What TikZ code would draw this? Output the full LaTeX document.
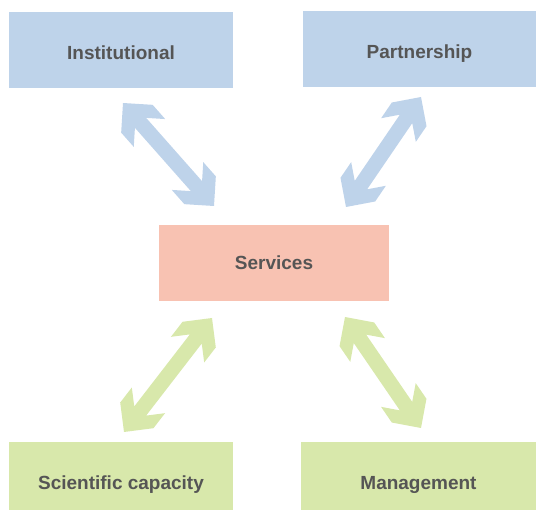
\documentclass[tikz,border=0pt]{standalone}
\usepackage{fontspec}
\setmainfont{Liberation Sans}
\usetikzlibrary{calc}

\definecolor{boxblue}{RGB}{190,211,234}
\definecolor{boxpink}{RGB}{248,194,178}
\definecolor{boxgreen}{RGB}{216,232,171}
\definecolor{textgray}{RGB}{85,85,85}

% points of a double arrow, measured along and across it
\newcommand{\atstart}[2]{($($(\tikztostart)!#1!(\tikztotarget)$)!#2!90:(\tikztotarget)$)}
\newcommand{\atend}[2]{($($(\tikztotarget)!#1!(\tikztostart)$)!#2!90:(\tikztostart)$)}

\tikzset{
  box/.style={rectangle, inner sep=0pt, text=textgray,
    text height=13.6pt, text depth=0pt,
    font=\bfseries\fontsize{19}{23}\selectfont},
  dblarrow/.style={to path={
    \atstart{0pt}{0pt} -- \atstart{21pt}{21pt} -- \atstart{40pt}{21pt}
    -- \atstart{26.5pt}{7.5pt} -- \atend{26.5pt}{-7.5pt} -- \atend{40pt}{-21pt}
    -- \atend{21pt}{-21pt} -- \atend{0pt}{0pt} -- \atend{21pt}{21pt}
    -- \atend{40pt}{21pt} -- \atend{26.5pt}{7.5pt} -- \atstart{26.5pt}{-7.5pt}
    -- \atstart{40pt}{-21pt} -- \atstart{21pt}{-21pt} -- cycle}}
}

\begin{document}
\begin{tikzpicture}[x=1pt,y=-1pt]
    \useasboundingbox (0,0) rectangle (536,510);

    % top row, text sits a little low
    \node[box, fill=boxblue, minimum width=224pt, minimum height=76pt, text height=19.6pt] (inst) at (121,50) {Institutional};
    \node[box, fill=boxblue, minimum width=233pt, minimum height=76pt, text height=19.6pt] (part) at (419.5,49) {Partnership};

    % middle
    \node[box, fill=boxpink, minimum width=230pt, minimum height=76pt] (serv) at (274,263) {Services};

    % bottom row, cut by the page edge
    \node[box, fill=boxgreen, minimum width=224pt, minimum height=76pt, text height=19pt] (sci) at (121,480) {Scientific capacity};
    \node[box, fill=boxgreen, minimum width=235pt, minimum height=76pt, text height=19pt] (man) at (418.5,480) {Management};

    % arrow ends
    \coordinate (inst-end) at (123,103);
    \coordinate (serv-nw) at (214,206);
    \coordinate (part-end) at (421,97);
    \coordinate (serv-ne) at (346,207);
    \coordinate (serv-sw) at (212,318);
    \coordinate (sci-end) at (124,432);
    \coordinate (serv-se) at (345,317);
    \coordinate (man-end) at (421,428);

    % double arrows
    \fill[boxblue] (inst-end) to[dblarrow] (serv-nw);
    \fill[boxblue] (part-end) to[dblarrow] (serv-ne);
    \fill[boxgreen] (serv-sw) to[dblarrow] (sci-end);
    \fill[boxgreen] (serv-se) to[dblarrow] (man-end);
\end{tikzpicture}
\end{document}
